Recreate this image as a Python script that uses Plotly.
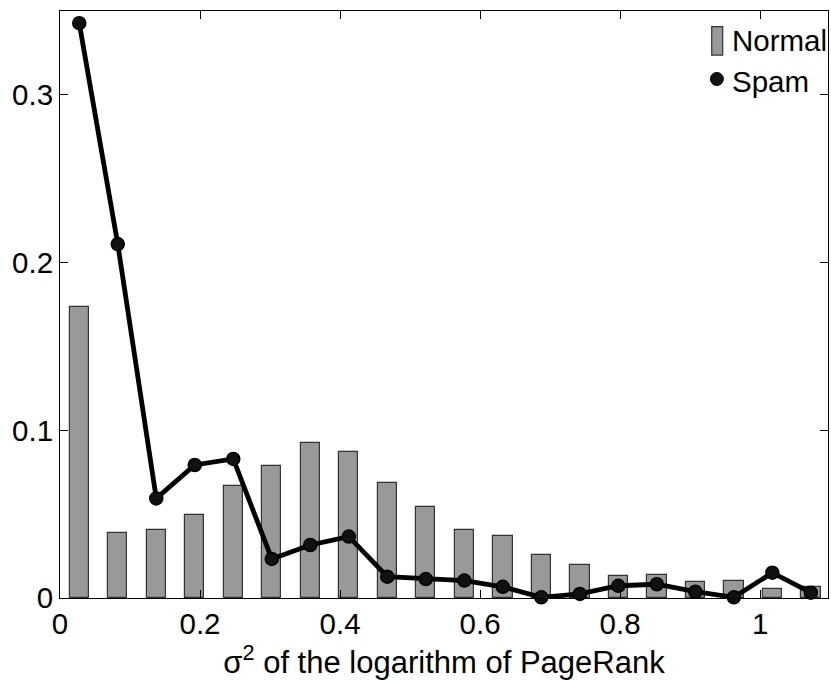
import plotly.graph_objects as go

bin_centers = [0.0275 + 0.055 * i for i in range(20)]
normal = [0.1733, 0.0386, 0.0404, 0.0495, 0.0670, 0.0789, 0.0922, 0.0869, 0.0683, 0.0540,
          0.0405, 0.0372, 0.0258, 0.0195, 0.0129, 0.0139, 0.0095, 0.0103, 0.0052, 0.0067]
spam = [0.3427, 0.2110, 0.0594, 0.0793, 0.0829, 0.0233, 0.0316, 0.0366, 0.0127, 0.0113,
        0.0104, 0.0067, 0.0004, 0.0024, 0.0073, 0.0082, 0.0038, 0.0004, 0.0151, 0.0032]
x_ticks = [0, 0.2, 0.4, 0.6, 0.8, 1]
x_tick_labels = ["0", "0.2", "0.4", "0.6", "0.8", "1"]
y_ticks = [0, 0.1, 0.2, 0.3]
y_tick_labels = ["0", "0.1", "0.2", "0.3"]

FONT = "Liberation Sans, Arial, Helvetica, sans-serif"

fig = go.Figure()
fig.add_trace(go.Bar(
    x=bin_centers, y=normal, name="Normal", width=0.0277,
    marker=dict(color="#999999", line=dict(color="#333333", width=1.2)),
    showlegend=False,
))
fig.add_trace(go.Scatter(
    x=bin_centers, y=spam, name="Spam", mode="lines+markers",
    line=dict(color="black", width=4.8),
    marker=dict(color="#111111", size=13, line=dict(color="black", width=1.5)),
    showlegend=False, cliponaxis=False,
))

# custom legend
fig.add_shape(type="rect", xref="paper", yref="paper",
              x0=0.8486, x1=0.8629, y0=0.925, y1=0.9733,
              fillcolor="#999999", line=dict(color="#333333", width=1.2))
fig.add_annotation(xref="paper", yref="paper", x=0.8720, y=0.9489, text="Normal",
                   showarrow=False, xanchor="left", yanchor="middle",
                   font=dict(family=FONT, size=29.5, color="black"))
fig.add_shape(type="circle", xref="paper", yref="paper",
              xsizemode="pixel", ysizemode="pixel",
              xanchor=0.8553, yanchor=0.8842, x0=-6.5, x1=6.5, y0=-6.5, y1=6.5,
              fillcolor="#111111", line=dict(color="black", width=1))
fig.add_annotation(xref="paper", yref="paper", x=0.8720, y=0.8807, text="Spam",
                   showarrow=False, xanchor="left", yanchor="middle",
                   font=dict(family=FONT, size=29.5, color="black"))

axis_common = dict(
    showgrid=False, zeroline=False, showline=True, linecolor="black", linewidth=1,
    mirror="ticks", ticks="inside", ticklen=8, tickcolor="black", tickwidth=1,
    tickfont=dict(family=FONT, size=29.5, color="black"), automargin=False,
)
fig.update_xaxes(range=[0, 1.097], tickvals=x_ticks, ticktext=x_tick_labels,
                 title=dict(text="σ<sup>2</sup> of the logarithm of PageRank",
                            font=dict(family=FONT, size=31, color="black"), standoff=8),
                 **axis_common)
fig.update_yaxes(range=[0, 0.35], tickvals=y_ticks, ticktext=y_tick_labels, **axis_common)

fig.update_layout(
    width=831, height=681,
    margin=dict(l=60, r=3, t=11, b=83),
    plot_bgcolor="white", paper_bgcolor="white",
    bargap=0, font=dict(family=FONT, color="black"),
)
fig.write_html("out.html", config={"displayModeBar": False},
               post_script="document.body.style.margin='0';document.body.style.overflow='hidden';")
